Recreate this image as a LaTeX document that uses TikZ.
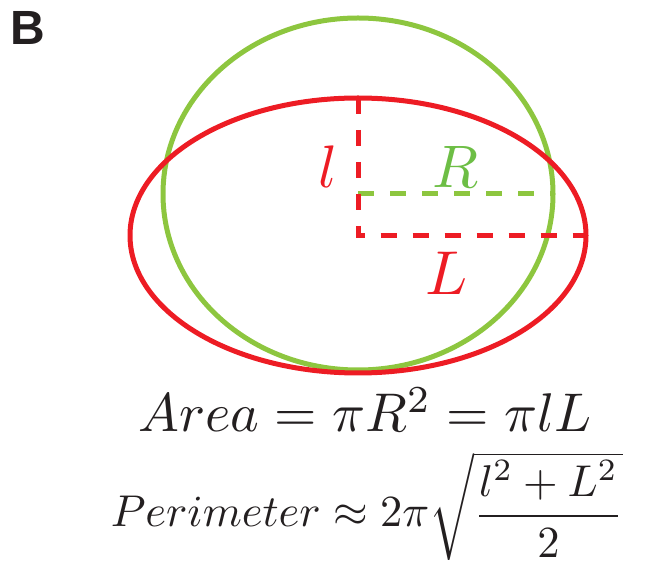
\documentclass[tikz,border=0pt]{standalone}
\usepackage{amsmath}
\usepackage{graphicx}
\usepackage{fontspec}
\newfontfamily\panelfont{Liberation Sans}
\usepackage{xcolor}
\usepackage{tikz}
\usetikzlibrary{calc}

\definecolor{circgreen}{RGB}{141,198,63}
\definecolor{labgreen}{RGB}{109,190,69}
\definecolor{ellred}{RGB}{237,28,36}
\definecolor{inkblack}{RGB}{35,31,32}

\begin{document}
\begin{tikzpicture}[
    x=1pt, y=1pt,
    circline/.style={draw=circgreen, line width=5pt},
    ellline/.style={draw=ellred, line width=5pt},
    halfaxis/.style={dash pattern=on 16pt off 16pt, line width=5pt},
    axlabel/.style={inner sep=0pt, anchor=base},
    formula/.style={text=inkblack, inner sep=0pt, anchor=base},
]
\useasboundingbox (0,0) rectangle (650,562);

% --- panel letter ---
\node[font=\panelfont\bfseries\fontsize{48}{48}\selectfont, text=inkblack,
      anchor=base west, inner sep=0pt] (panel) at (10,517) {B};

% --- centres and half-axis ends ---
\coordinate (cc)    at (358,368);
\coordinate (ec)    at (358,326.5);
\coordinate (ctop)  at (358,464);
\coordinate (cright) at (553,368);
\coordinate (eright) at (586,326.5);

% --- circle and ellipse ---
\draw[circline] (cc) ellipse [x radius=195, y radius=176];
\draw[ellline]  (ec) ellipse [x radius=228, y radius=137.5];

% --- dashed radii ---
\draw[halfaxis, draw=circgreen] (cc) -- (cright);
\draw[halfaxis, draw=ellred] (ctop) -- (ec) -- (eright);

% --- radius labels ---
\node[axlabel, text=ellred]   (lab-l) at (328,374) {\scalebox{6}{$l$}};
\node[axlabel, text=labgreen] (lab-R) at (456,374) {\scalebox{6}{$R$}};
\node[axlabel, text=ellred]   (lab-L) at (447,267) {\scalebox{6.2}{$L$}};

% --- formulas ---
\node[formula] (area) at (365,130)
  {\scalebox{5.45}{$Area = \pi R^2 = \pi l L$}};
\node[formula] (perim) at (367,35)
  {\scalebox{4.45}{$Perimeter \approx 2\pi\sqrt{\dfrac{l^2+L^2}{2}}$}};
\end{tikzpicture}
\end{document}
